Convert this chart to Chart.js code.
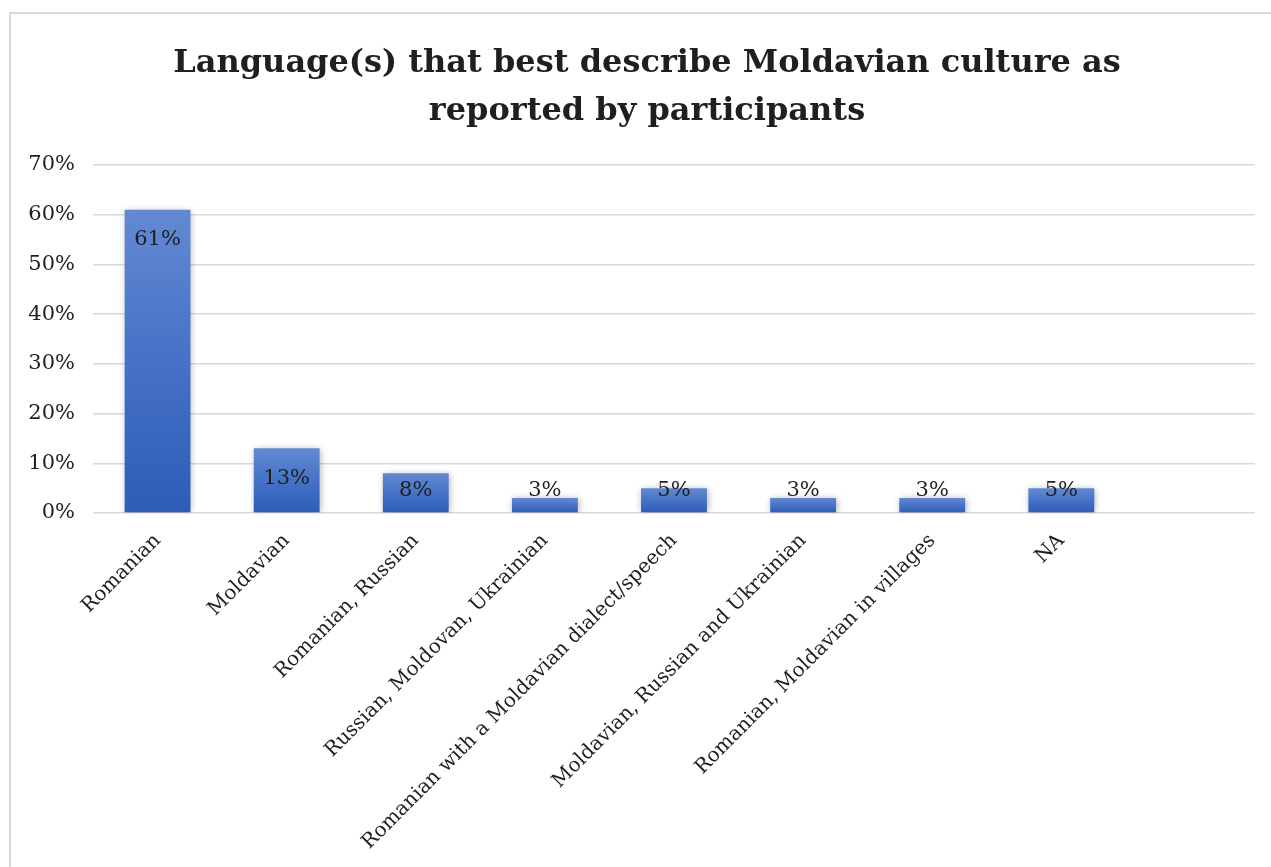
<!DOCTYPE html>
<html>
<head>
<meta charset="utf-8">
<script src="https://cdn.jsdelivr.net/npm/chart.js@4.4.1/dist/chart.umd.min.js"></script>
<style>
  html, body { margin: 0; padding: 0; background: #fff; overflow: hidden; }
  #frame {
    position: absolute; left: 9px; top: 12px;
    width: 1272px; height: 853px;
    border: 2px solid #d9d9d9;
    background: #fff;
  }
</style>
</head>
<body>
<div id="frame"><canvas id="chart"></canvas></div>
<script>
const categories = [
  'Romanian',
  'Moldavian',
  'Romanian, Russian',
  'Russian, Moldovan, Ukrainian',
  'Romanian with a Moldavian dialect/speech',
  'Moldavian, Russian and Ukrainian',
  'Romanian, Moldavian in villages',
  'NA'
];
const shares = [61, 13, 8, 3, 5, 3, 3, 5];
const yTicks = [0, 10, 20, 30, 40, 50, 60, 70];
const titleLines = ['Language(s) that best describe Moldavian culture as', 'reported by participants'];

const serif = "'DejaVu Serif', 'Liberation Serif', serif";
const textColor = '#1f1f1f';

// one gradient per bar, light at the top, dark at the base
function barGradient(ctx) {
  const chart = ctx.chart;
  const y = chart.scales.y;
  if (!y || !ctx.parsed) return '#4472c4';
  const top = y.getPixelForValue(ctx.parsed.y);
  const base = y.getPixelForValue(0);
  if (!isFinite(top) || !isFinite(base) || top === base) return '#4472c4';
  const g = chart.ctx.createLinearGradient(0, top, 0, base);
  g.addColorStop(0, '#6389d3');
  g.addColorStop(0.5, '#4572c6');
  g.addColorStop(1, '#2e5cb6');
  return g;
}

const barShadow = {
  id: 'barShadow',
  beforeDatasetDraw(chart) {
    const c = chart.ctx;
    c.save();
    c.shadowColor = 'rgba(0,0,0,0.32)';
    c.shadowBlur = 7;
    c.shadowOffsetX = 1;
    c.shadowOffsetY = 1;
  },
  afterDatasetDraw(chart) {
    chart.ctx.restore();
  }
};

// value labels at the inner top of each bar, pushed up on short bars
const valueLabels = {
  id: 'valueLabels',
  afterDatasetsDraw(chart) {
    const c = chart.ctx;
    const meta = chart.getDatasetMeta(0);
    c.save();
    c.font = '21px ' + serif;
    c.fillStyle = textColor;
    c.textAlign = 'center';
    c.textBaseline = 'middle';
    meta.data.forEach((bar, i) => {
      const v = shares[i];
      if (v == null) return;
      const y = Math.min(bar.y + 30, bar.base - 22);
      c.fillText(v + '%', bar.x, y);
    });
    c.restore();
  }
};

// title centred on the whole canvas rather than on the padded box
const centredTitle = {
  id: 'centredTitle',
  afterDraw(chart) {
    const c = chart.ctx;
    c.save();
    c.font = 'bold 32px ' + serif;
    c.fillStyle = textColor;
    c.textAlign = 'center';
    c.textBaseline = 'middle';
    titleLines.forEach((line, i) => c.fillText(line, chart.width / 2, 50 + i * 48));
    c.restore();
  }
};

new Chart(document.getElementById('chart'), {
  type: 'bar',
  data: {
    labels: [...categories, ''],
    datasets: [{
      data: shares,
      backgroundColor: barGradient,
      borderWidth: 0,
      categoryPercentage: 1,
      barPercentage: 0.51
    }]
  },
  options: {
    animation: false,
    responsive: true,
    maintainAspectRatio: false,
    layout: { padding: { left: 0, right: 28, top: 151, bottom: 0 } },
    plugins: {
      legend: { display: false },
      tooltip: { enabled: false },
      title: { display: false }
    },
    scales: {
      x: {
        grid: { display: false },
        border: { display: false },
        ticks: {
          color: textColor,
          font: { family: serif, size: 20 },
          minRotation: 45,
          maxRotation: 45,
          autoSkip: false,
          padding: 8
        },
        afterFit(scale) { scale.height = 354; }
      },
      y: {
        min: 0,
        max: 70,
        afterBuildTicks(scale) { scale.ticks = yTicks.map(v => ({ value: v })); },
        grid: { color: '#d9d9d9', lineWidth: 1.5, drawTicks: false },
        border: { display: false },
        ticks: {
          color: textColor,
          font: { family: serif, size: 21 },
          padding: 18,
          callback: v => v + '%'
        },
        afterFit(scale) { scale.width = 82; }
      }
    }
  },
  plugins: [barShadow, valueLabels, centredTitle]
});
</script>
</body>
</html>
